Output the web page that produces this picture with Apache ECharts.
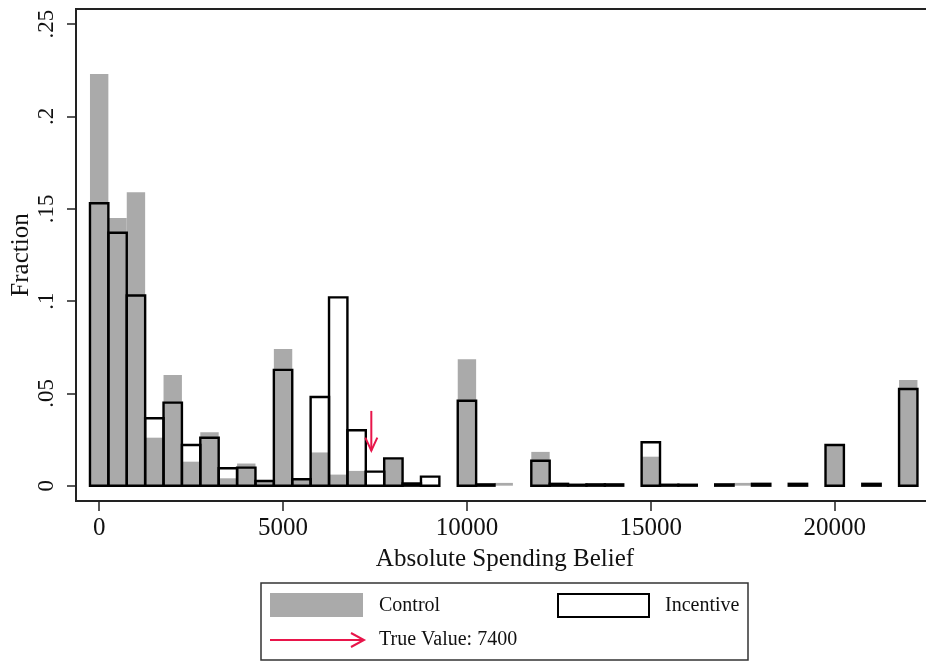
<!DOCTYPE html>
<html>
<head>
<meta charset="utf-8">
<script src="https://cdn.jsdelivr.net/npm/echarts@6/dist/echarts.min.js"></script>
<style>
html,body{margin:0;padding:0;background:#fff;overflow:hidden;}
#chart{width:926px;height:662px;}
</style>
</head>
<body>
<div id="chart"></div>
<script>
// ---- data ----
const binWidth = 500;
const bins = [0,500,1000,1500,2000,2500,3000,3500,4000,4500,5000,5500,6000,6500,7000,7500,8000,8500,9000,9500,
  10000,10500,11000,11500,12000,12500,13000,13500,14000,14500,15000,15500,16000,16500,17000,17500,18000,18500,19000,19500,
  20000,20500,21000,21500,22000];
const control = [0.223,0.145,0.159,0.026,0.060,0.013,0.029,0.004,0.012,0.002,0.074,0.003,0.018,0.006,0.008,0,0.015,0,0,0,
  0.0685,0,0.0015,0,0.0183,0.0005,0,0,0,0,0.0157,0,0,0,0,0.0015,0,0,0,0,
  0.022,0,0,0,0.0573];
const incentive = [0.153,0.137,0.103,0.0365,0.045,0.022,0.026,0.0094,0.0098,0.0025,0.0627,0.0035,0.048,0.102,0.030,0.0076,0.0148,0.0012,0.0049,0,
  0.046,0.0007,0,0,0.0135,0.001,0.0005,0.0007,0.0007,0,0.0235,0.0005,0.0005,0,0.0007,0,0.001,0,0.001,0,
  0.022,0,0.001,0,0.0524];
const trueValue = 7400;
const arrowFrom = 0.0405;
const arrowTo = 0.019;
const xTicks = [0,5000,10000,15000,20000];
const yTicks = [0,0.05,0.1,0.15,0.2,0.25];
const yTickLabels = ['0','.05','.1','.15','.2','.25'];
const seriesNames = ['Control','Incentive','True Value: 7400'];
const xTitle = 'Absolute Spending Belief';
const yTitle = 'Fraction';

// ---- styles ----
const FONT = '"Liberation Serif","Times New Roman",serif';
const GRAY = '#aaaaaa';
const RED = '#e8154a';
const INK = '#111';

const controlData = bins.map((b,i)=>[b, control[i]]).filter(d=>d[1]>0);
const incentiveData = bins.map((b,i)=>[b, incentive[i]]).filter(d=>d[1]>0);

function barRect(api){
  const x = api.value(0), y = api.value(1);
  const p0 = api.coord([x - binWidth/2, y]);
  const p1 = api.coord([x + binWidth/2, 0]);
  return {x:p0[0], y:p0[1], width:p1[0]-p0[0], height:p1[1]-p0[1]};
}

const chart = echarts.init(document.getElementById('chart'), null, {renderer:'canvas'});
chart.setOption({
  animation:false,
  backgroundColor:'#fff',
  grid:{left:76, top:9, width:858, height:492, containLabel:false, outerBoundsMode:'none',
    show:true, borderColor:'#222', borderWidth:2, backgroundColor:'#fff'},
  xAxis:{
    type:'value', min:-630, max:22700,
    name:xTitle, nameLocation:'middle', nameGap:46, nameMoveOverlap:false,
    nameTextStyle:{fontFamily:FONT, fontSize:25, color:INK},
    splitLine:{show:false},
    axisLine:{show:true, onZero:false, lineStyle:{color:'#222', width:2}},
    axisTick:{show:true, length:10, customValues:xTicks, lineStyle:{color:'#222', width:1.5}},
    axisLabel:{customValues:xTicks, margin:15, fontFamily:FONT, fontSize:25, color:INK, formatter:v=>String(v)}
  },
  yAxis:{
    type:'value', min:-0.0083, max:0.2582,
    name:yTitle, nameLocation:'middle', nameGap:42, nameRotate:90, nameMoveOverlap:false,
    nameTextStyle:{fontFamily:FONT, fontSize:25, color:INK},
    splitLine:{show:false},
    axisLine:{show:true, onZero:false, lineStyle:{color:'#222', width:2}},
    axisTick:{show:true, length:9, customValues:yTicks, lineStyle:{color:'#222', width:1.5}},
    axisLabel:{customValues:yTicks, rotate:90, margin:18, fontFamily:FONT, fontSize:23, color:INK,
      formatter:v=>{ const i = yTicks.findIndex(t=>Math.abs(t-v)<1e-9); return i>=0 ? yTickLabels[i] : ''; }}
  },
  series:[
    {
      name:seriesNames[0], type:'custom', z:1, data:controlData,
      renderItem:(params, api)=>({type:'rect', shape:barRect(api), style:{fill:GRAY}})
    },
    {
      name:seriesNames[1], type:'custom', z:2, data:incentiveData,
      renderItem:(params, api)=>({type:'rect', shape:barRect(api), style:{fill:'none', stroke:'#000', lineWidth:2.4}})
    },
    {
      name:seriesNames[2], type:'custom', z:3, data:[[trueValue, arrowFrom, arrowTo]],
      renderItem:(params, api)=>{
        const x = api.value(0);
        const a = api.coord([x, api.value(1)]);
        const b = api.coord([x, api.value(2)]);
        return {type:'group', children:[
          {type:'line', shape:{x1:a[0], y1:a[1], x2:b[0], y2:b[1]}, style:{stroke:RED, lineWidth:2}},
          {type:'polyline', shape:{points:[[b[0]-6, b[1]-13],[b[0], b[1]],[b[0]+6, b[1]-13]]}, style:{stroke:RED, lineWidth:2, fill:'none'}}
        ]};
      }
    }
  ],
  graphic:[
    {type:'rect', shape:{x:261, y:583, width:487, height:77}, style:{fill:'#fff', stroke:'#333', lineWidth:1.5}},
    {type:'rect', shape:{x:270, y:593, width:93, height:24}, style:{fill:GRAY}},
    {type:'text', x:379, y:606, style:{text:seriesNames[0], fontFamily:FONT, fontSize:20, fill:INK, verticalAlign:'middle'}},
    {type:'rect', shape:{x:558, y:594, width:91, height:23}, style:{fill:'#fff', stroke:'#000', lineWidth:2}},
    {type:'text', x:665, y:606, style:{text:seriesNames[1], fontFamily:FONT, fontSize:20, fill:INK, verticalAlign:'middle'}},
    {type:'line', shape:{x1:270, y1:640, x2:364, y2:640}, style:{stroke:RED, lineWidth:2}},
    {type:'polyline', shape:{points:[[351,633],[364,640],[351,647]]}, style:{stroke:RED, lineWidth:2, fill:'none'}},
    {type:'text', x:379, y:640, style:{text:seriesNames[2], fontFamily:FONT, fontSize:20, fill:INK, verticalAlign:'middle'}}
  ]
});
</script>
</body>
</html>
